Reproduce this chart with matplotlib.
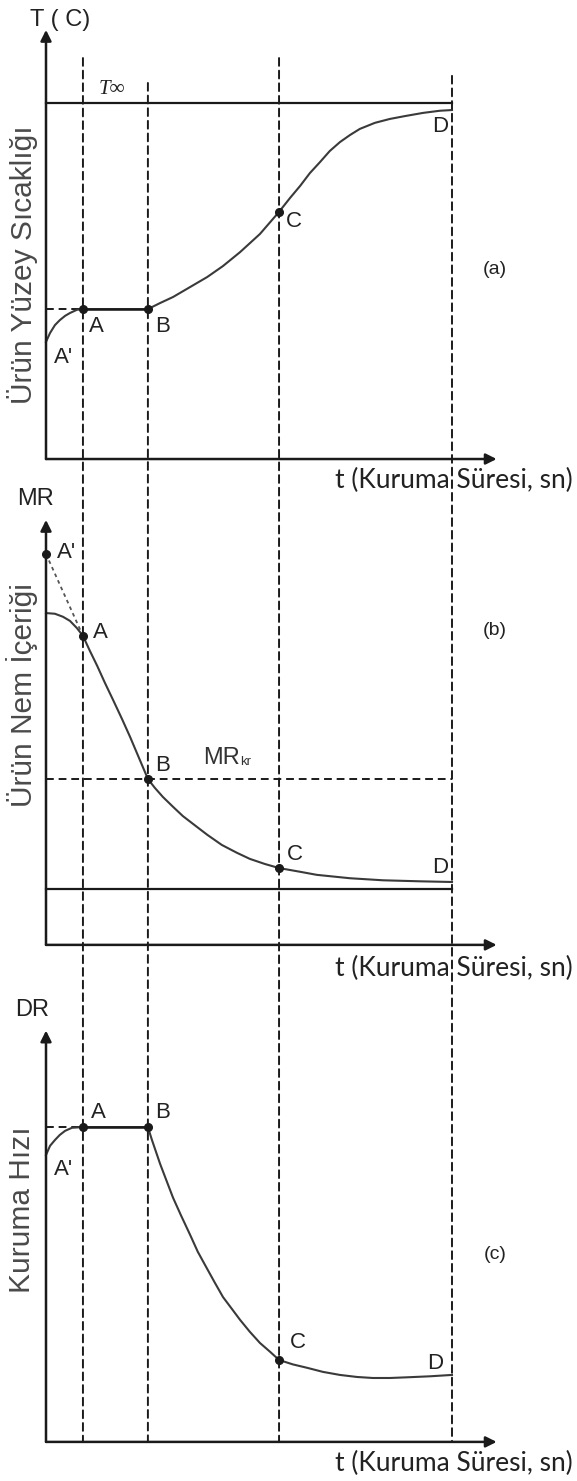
import numpy as np
import matplotlib
matplotlib.use('Agg')
import matplotlib.pyplot as plt
from matplotlib.patches import ConnectionPatch

# characteristic times of the drying stages (A, B, C, D)
t_A, t_B, t_C, t_D = 0.91, 2.51, 5.74, 10.0

# (a) product surface temperature, T_inf = 100
T_inf = 100.0
t_temp = [0.0, 0.10, 0.22, 0.34, 0.47, 0.59, 0.76, 0.91, 2.51, 2.81, 3.13, 3.55,
          3.97, 4.36, 4.78, 5.27, 5.74, 6.01, 6.26, 6.50, 6.75, 6.99, 7.24, 7.49,
          7.73, 8.10, 8.47, 8.84, 9.29, 9.70, 10.0]
T_temp = [32.9, 35.4, 37.6, 39.0, 40.2, 41.0, 41.9, 42.1, 42.1, 43.8, 45.5, 48.3,
          51.1, 54.2, 58.1, 63.2, 69.4, 73.3, 76.7, 80.3, 83.4, 86.5, 89.0, 91.0,
          92.7, 94.4, 95.5, 96.3, 97.2, 97.8, 98.0]
T_A, T_B, T_C = 42.1, 42.1, 69.4

# (b) moisture ratio
MR_start = 115.0   # A' (extrapolated)
MR_eq = 16.5
t_mr = [0.0, 0.22, 0.42, 0.59, 0.76, 0.91, 1.08, 1.26, 1.45, 1.65, 1.87, 2.07,
        2.29, 2.51, 2.68, 2.88, 3.13, 3.37, 3.62, 3.97, 4.33, 4.70, 5.02, 5.39,
        5.74, 6.26, 6.67, 7.49, 8.30, 9.21, 10.0]
MR = [97.6, 97.4, 96.5, 95.3, 93.2, 90.9, 86.5, 82.1, 77.1, 72.1, 66.5, 61.2,
      55.0, 48.8, 46.2, 43.5, 40.6, 37.9, 35.6, 32.4, 29.4, 27.1, 25.3, 23.8,
      22.6, 21.5, 20.6, 19.6, 19.0, 18.7, 18.5]
MR_A, MR_kr, MR_C = 90.9, 48.8, 22.6

# (c) drying rate
t_dr = [0.0, 0.10, 0.22, 0.34, 0.47, 0.64, 0.91, 2.51, 2.61, 2.71, 2.81, 2.96,
        3.13, 3.33, 3.55, 3.74, 3.97, 4.16, 4.36, 4.58, 4.78, 5.02, 5.27, 5.52,
        5.74, 6.08, 6.43, 6.82, 7.24, 7.66, 8.05, 8.47, 8.89, 9.46, 10.0]
DR = [84.4, 87.1, 88.8, 90.3, 91.5, 92.4, 92.6, 92.6, 88.8, 85.3, 81.8, 77.1,
      71.8, 66.5, 60.9, 55.9, 50.9, 46.8, 42.6, 39.1, 35.9, 32.4, 29.1, 26.5,
      24.1, 22.8, 21.8, 20.6, 19.7, 19.1, 18.8, 18.8, 19.0, 19.3, 19.7]
DR_A, DR_B, DR_C = 92.6, 92.6, 24.1

ink = '#1a1a1a'
curve_col = '#3a3a3a'
lab_font = 'Liberation Sans'

fig = plt.figure(figsize=(5.77, 14.81), dpi=100)
H = 1481.0
bands = [(0, 490), (490, 985), (985, 1481)]
axes = []
for top, bot in bands:
    ax = fig.add_axes([0, 1 - bot / H, 1, (bot - top) / H])
    ax.set_xlim(-1.133, 13.079)
    ax.axis('off')
    axes.append(ax)
axa, axb, axc = axes
axa.set_ylim(-8.7, 128.9)
axb.set_ylim(-11.8, 133.8)
axc.set_ylim(-11.5, 134.4)

t_end = 11.1


def draw_axes(ax, ytop, ylab_pos):
    arw = dict(arrowstyle='-|>', lw=1.8, color=ink, mutation_scale=16,
               shrinkA=0, shrinkB=0)
    ax.annotate('', xy=(0, ytop), xytext=(0, 0), arrowprops=arw)
    ax.annotate('', xy=(t_end, 0), xytext=(0, 0), arrowprops=arw)
    ax.text(12.98, ylab_pos, 't (Kuruma Süresi, sn)', ha='right', va='center',
            fontsize=19, family='Lato', color='#222222')


def pt_label(ax, x, y, s, size=16):
    ax.text(x, y, s, ha='center', va='center', fontsize=size,
            family=lab_font, color='#222222')


def ylab(ax, y, s):
    ax.text(-0.59, y, s, rotation=90, ha='center', va='center', fontsize=21.5,
            family=lab_font, color='#4a4a4a')


dash = (0, (4, 2.5))

# ---- (a) surface temperature
draw_axes(axa, 120.5, -5.9)
axa.plot([0, t_D], [T_inf, T_inf], color=ink, lw=1.6)
axa.plot([0, t_A], [T_A, T_A], color=ink, lw=1.4, ls=dash)
axa.plot(t_temp, T_temp, color=curve_col, lw=1.5)
axa.plot([t_A, t_B], [T_A, T_B], color=ink, lw=1.8)
axa.plot([t_A, t_B, t_C], [T_A, T_B, T_C], 'o', color=ink, ms=5.5)
axa.text(-0.39, 123.3, 'T ( C)', ha='left', va='center', fontsize=17,
         family=lab_font, color='#222222')
axa.text(1.3, 101.0, 'T∞', ha='left', va='bottom', fontsize=15,
         family='Liberation Serif', style='italic', color='#222222')
pt_label(axa, 0.42, 28.4, "A'")
pt_label(axa, 1.23, 37.1, 'A')
pt_label(axa, 2.88, 37.1, 'B')
pt_label(axa, 6.1, 66.6, 'C')
pt_label(axa, 9.7, 93.3, 'D')
pt_label(axa, 11.06, 53.1, '(a)', size=14)
ylab(axa, 54.5, 'Ürün Yüzey Sıcaklığı')

# ---- (b) moisture ratio
draw_axes(axb, 125.0, -6.8)
axb.plot([0, t_D], [MR_eq, MR_eq], color=ink, lw=1.6)
axb.plot([0, t_D], [MR_kr, MR_kr], color=ink, lw=1.4, ls=dash)
axb.plot([0, t_A], [MR_start, MR_A], color='#555555', lw=1.3, ls=(0, (2, 2)))
axb.plot(t_mr, MR, color=curve_col, lw=1.5)
axb.plot([0, t_A, t_B, t_C], [MR_start, MR_A, MR_kr, MR_C], 'o', color=ink,
         ms=5.5)
axb.text(-0.25, 131.2, 'MR', ha='center', va='center', fontsize=17,
         family=lab_font, color='#222222')
pt_label(axb, 0.5, 115.3, "A'")
pt_label(axb, 1.35, 91.8, 'A')
pt_label(axb, 2.88, 52.9, 'B')
mr_txt = axb.text(3.87, 55.0, 'MR', ha='left', va='center', fontsize=17,
                  family=lab_font, color='#333333')
axb.annotate('kr', xy=(1.0, 0.05), xycoords=mr_txt, ha='left', va='bottom',
             fontsize=9.5, family=lab_font, color='#333333')
pt_label(axb, 6.12, 26.5, 'C')
pt_label(axb, 9.7, 22.9, 'D')
pt_label(axb, 11.06, 92.6, '(b)', size=14)
ylab(axb, 73.5, 'Ürün Nem İçeriği')

# ---- (c) drying rate
draw_axes(axc, 121.0, -6.2)
axc.plot([0, t_A], [DR_A, DR_A], color=ink, lw=1.4, ls=dash)
axc.plot(t_dr, DR, color=curve_col, lw=1.5)
axc.plot([t_A, t_B], [DR_A, DR_B], color=ink, lw=1.8)
axc.plot([t_A, t_B, t_C], [DR_A, DR_B, DR_C], 'o', color=ink, ms=5.5)
axc.text(-0.35, 127.0, 'DR', ha='center', va='center', fontsize=17,
         family=lab_font, color='#222222')
pt_label(axc, 0.42, 80.0, "A'")
pt_label(axc, 1.28, 97.0, 'A')
pt_label(axc, 2.88, 97.0, 'B')
pt_label(axc, 6.2, 29.1, 'C')
pt_label(axc, 9.58, 23.2, 'D')
pt_label(axc, 11.06, 55.0, '(c)', size=14)
ylab(axc, 68.2, 'Kuruma Hızı')

# stage boundaries running down through all three panels
for t, top in [(t_A, 112.6), (t_B, 105.6), (t_C, 112.6), (t_D, 107.6)]:
    con = ConnectionPatch(xyA=(t, top), coordsA=axa.transData,
                          xyB=(t, 0), coordsB=axc.transData,
                          color=ink, lw=1.4, linestyle=dash)
    fig.add_artist(con)

fig.savefig('out.png', dpi=100)
